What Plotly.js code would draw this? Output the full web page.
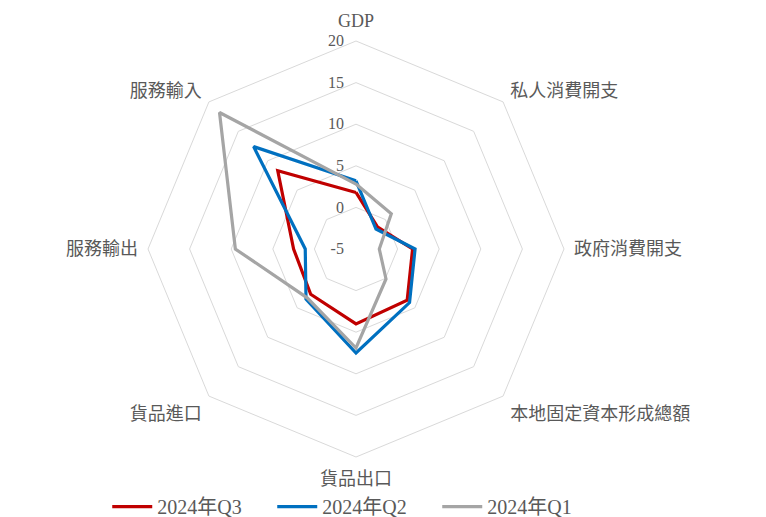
<!DOCTYPE html>
<html>
<head>
<meta charset="utf-8">
<script src="https://cdn.plot.ly/plotly-3.0.1.min.js"></script>
<style>html,body{margin:0;padding:0;background:#fff;}#chart{width:766px;height:517px;}</style>
</head>
<body>
<div id="chart"></div>
<script>
const categories = ['GDP', '私人消費開支', '政府消費開支', '本地固定資本形成總額', '貨品出口', '貨品進口', '服務輸出', '服務輸入'];
const seriesNames = ['2024年Q3', '2024年Q2', '2024年Q1'];
const q3 = [1.8, -1.3, 1.8, 3.7, 4.0, 2.7, 2.5, 8.3];
const q2 = [3.2, -1.6, 2.1, 4.1, 7.5, 3.5, 1.1, 12.4];
const q1 = [2.8, 1.0, -2.2, 0.1, 6.9, 3.3, 9.5, 18.2];
const radialTicks = [-5, 0, 5, 10, 15, 20];
const colors = ['#C00000', '#0070C0', '#A5A5A5'];

const fontFam = '"Liberation Serif", "Noto Sans CJK TC", serif';
function closed(a) { return a.concat([a[0]]); }
const allSeries = [q3, q2, q1];
const traces = allSeries.map((vals, i) => ({
  type: 'scatterpolar',
  mode: 'lines',
  r: closed(vals),
  theta: closed(categories),
  name: seriesNames[i],
  line: {color: colors[i], width: 3.2},
  hoverinfo: 'skip'
}));

const W = 766, H = 517, cx = 356, cy = 249, R = 208;
const layout = {
  width: W, height: H,
  margin: {l: 0, r: 0, t: 0, b: 0, autoexpand: false},
  paper_bgcolor: '#ffffff',
  showlegend: true,
  legend: {
    orientation: 'h', x: 0.14, xanchor: 'left', y: 0.02, yanchor: 'middle',
    bgcolor: 'rgba(0,0,0,0)',
    font: {family: fontFam, size: 20, color: '#595959'},
    itemwidth: 40, entrywidth: 110, tracegroupgap: 0
  },
  polar: {
    domain: {x: [(cx - R) / W, (cx + R) / W], y: [(H - cy - R) / H, (H - cy + R) / H]},
    gridshape: 'linear',
    bgcolor: '#ffffff',
    radialaxis: {
      range: [radialTicks[0], radialTicks[radialTicks.length - 1]],
      tickvals: radialTicks,
      ticktext: radialTicks.map(String),
      angle: 90,
      tickangle: 90,
      side: 'counterclockwise',
      showline: false,
      ticks: 'outside',
      ticklen: 6,
      tickcolor: 'rgba(0,0,0,0)',
      gridcolor: '#d9d9d9',
      gridwidth: 1,
      tickfont: {family: fontFam, size: 16, color: '#595959'}
    },
    angularaxis: {
      direction: 'clockwise',
      rotation: 90,
      showgrid: false,
      showline: true,
      linecolor: '#d9d9d9',
      linewidth: 1,
      ticks: 'outside',
      ticklen: 6,
      tickcolor: 'rgba(0,0,0,0)',
      tickfont: {family: fontFam, size: 18, color: '#595959'}
    }
  }
};

Plotly.newPlot('chart', traces, layout, {displayModeBar: false, staticPlot: true});
</script>
</body>
</html>
